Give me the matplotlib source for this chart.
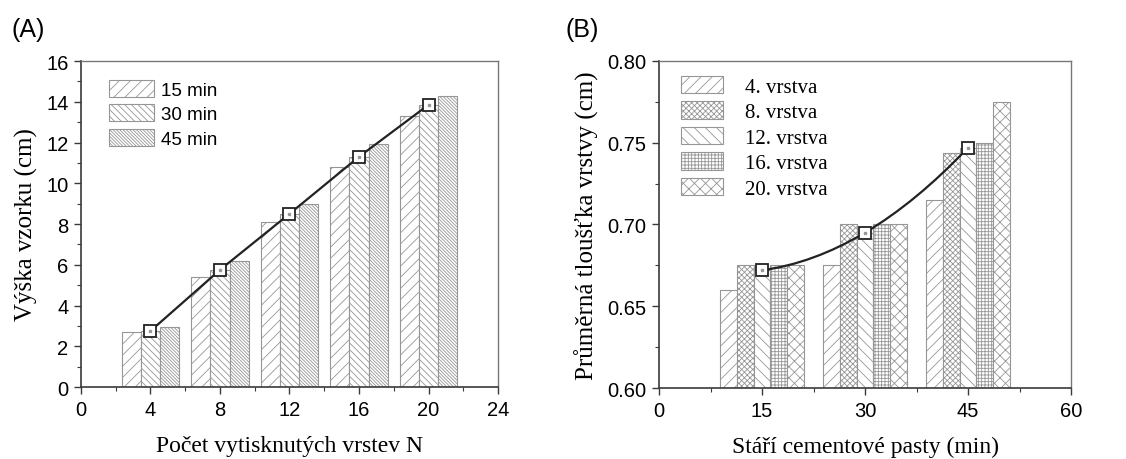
import numpy as np
import matplotlib
matplotlib.use('Agg')
import matplotlib.pyplot as plt
from matplotlib.path import Path
from matplotlib.patches import PathPatch

# (A) výška vzorku podle počtu vrstev
vrstvy = [4, 8, 12, 16, 20]
casy_a = ['15 min', '30 min', '45 min']
vyska_15 = [2.7, 5.4, 8.1, 10.8, 13.3]
vyska_30 = [2.75, 5.75, 8.5, 11.3, 13.85]
vyska_45 = [2.95, 6.2, 9.0, 11.95, 14.3]

# (B) průměrná tloušťka vrstvy podle stáří pasty
stari = [15, 30, 45]
popisky_b = ['4. vrstva', '8. vrstva', '12. vrstva', '16. vrstva', '20. vrstva']
tl_4 = [0.660, 0.675, 0.715]
tl_8 = [0.675, 0.700, 0.744]
tl_12 = [0.672, 0.695, 0.747]
tl_16 = [0.675, 0.700, 0.750]
tl_20 = [0.675, 0.700, 0.775]

plt.rcParams['font.family'] = ['Liberation Sans', 'DejaVu Sans']
plt.rcParams['hatch.linewidth'] = 0.6
plt.rcParams['xtick.direction'] = 'out'
plt.rcParams['ytick.direction'] = 'out'

serif = ['Liberation Serif', 'DejaVu Serif']
edge = '#969696'
spine = '#3a3a3a'

fig = plt.figure(figsize=(11.26, 4.6), dpi=100)
ax1 = fig.add_axes([0.0719, 0.1565, 0.3704, 0.7087])
ax2 = fig.add_axes([0.5853, 0.1543, 0.3659, 0.7110])


def styl_os(ax):
    for s in ['left', 'bottom']:
        ax.spines[s].set_color(spine)
        ax.spines[s].set_linewidth(1.2)
    for s in ['top', 'right']:
        ax.spines[s].set_color('#777777')
        ax.spines[s].set_linewidth(1.0)
    ax.tick_params(which='major', length=5, width=1.0, color=spine, labelsize=14.5, pad=4)
    ax.tick_params(which='minor', length=3, width=0.8, color=spine)


# --- panel A ---
w = 1.1
hatche_a = ['///', '\\' * 5, '\\' * 10]
for i, (vals, h, lab) in enumerate(zip([vyska_15, vyska_30, vyska_45], hatche_a, casy_a)):
    x = np.array(vrstvy) + (i - 1) * w
    ax1.bar(x, vals, width=w, color='white', edgecolor=edge, hatch=h, linewidth=0.8, label=lab)
ax1.plot(vrstvy, vyska_30, color='#222222', lw=1.6, marker='s', ms=9,
         mfc='white', mec='#222222', mew=1.3, zorder=5)
ax1.plot(vrstvy, vyska_30, ls='none', marker='s', ms=2, mfc='#999999', mec='#999999', zorder=6)

ax1.set_xlim(0, 24)
ax1.set_ylim(0, 16)
ax1.set_xticks(range(0, 25, 4))
ax1.set_xticks(range(2, 24, 4), minor=True)
ax1.set_yticks(range(0, 17, 2))
ax1.set_yticks(range(1, 16, 2), minor=True)
styl_os(ax1)
ax1.set_xlabel('Počet vytisknutých vrstev N', family=serif, fontsize=17, labelpad=12)
ax1.set_ylabel('Výška vzorku (cm)', family=serif, fontsize=18, labelpad=6)
ax1.legend(loc='upper left', bbox_to_anchor=(0.067, 0.942), frameon=False, fontsize=13.5,
           borderpad=0, borderaxespad=0, handlelength=2.4, handleheight=1.0,
           labelspacing=0.3, handletextpad=0.4)

# --- panel B ---
wb = 2.45
hatche_b = ['///', '\\' * 6 + '/' * 6, '\\\\\\', '+' * 5, 'xxx']
for i, (vals, h, lab) in enumerate(zip([tl_4, tl_8, tl_12, tl_16, tl_20], hatche_b, popisky_b)):
    x = np.array(stari) + (i - 2) * wb
    ax2.bar(x, np.array(vals) - 0.6, bottom=0.6, width=wb, color='white', edgecolor=edge,
            hatch=h, linewidth=0.8, label=lab)

# hladká křivka přes body 12. vrstvy (kvadratická Bézierova)
p0 = np.array([stari[0], tl_12[0]])
pm = np.array([stari[1], tl_12[1]])
p2 = np.array([stari[2], tl_12[2]])
ctrl = 2 * pm - (p0 + p2) / 2
krivka = Path([p0, ctrl, p2], [Path.MOVETO, Path.CURVE3, Path.CURVE3])
ax2.add_patch(PathPatch(krivka, fill=False, color='#222222', lw=1.6, zorder=5))
ax2.plot(stari, tl_12, ls='none', marker='s', ms=9, mfc='white', mec='#222222', mew=1.3, zorder=6)
ax2.plot(stari, tl_12, ls='none', marker='s', ms=2, mfc='#999999', mec='#999999', zorder=7)

ax2.set_xlim(0, 60)
ax2.set_ylim(0.6, 0.8)
ax2.set_xticks(range(0, 61, 15))
ax2.set_xticks(np.arange(7.5, 60, 15), minor=True)
ax2.set_yticks(np.arange(0.60, 0.801, 0.05))
ax2.set_yticks(np.arange(0.625, 0.8, 0.05), minor=True)
ax2.yaxis.set_major_formatter(matplotlib.ticker.FormatStrFormatter('%.2f'))
styl_os(ax2)
ax2.set_xlabel('Stáří cementové pasty (min)', family=serif, fontsize=17, labelpad=12)
ax2.set_ylabel('Průměrná tloušťka vrstvy (cm)', family=serif, fontsize=18, labelpad=6)
ax2.legend(loc='upper left', bbox_to_anchor=(0.053, 0.954), frameon=False,
           prop={'family': serif, 'size': 15}, borderpad=0, borderaxespad=0,
           handlelength=2.0, handleheight=0.9, labelspacing=0.22, handletextpad=1.1)

fig.text(0.010, 0.935, '(A)', fontsize=18, va='center')
fig.text(0.502, 0.935, '(B)', fontsize=18, va='center')

fig.savefig('out.png', dpi=100)
